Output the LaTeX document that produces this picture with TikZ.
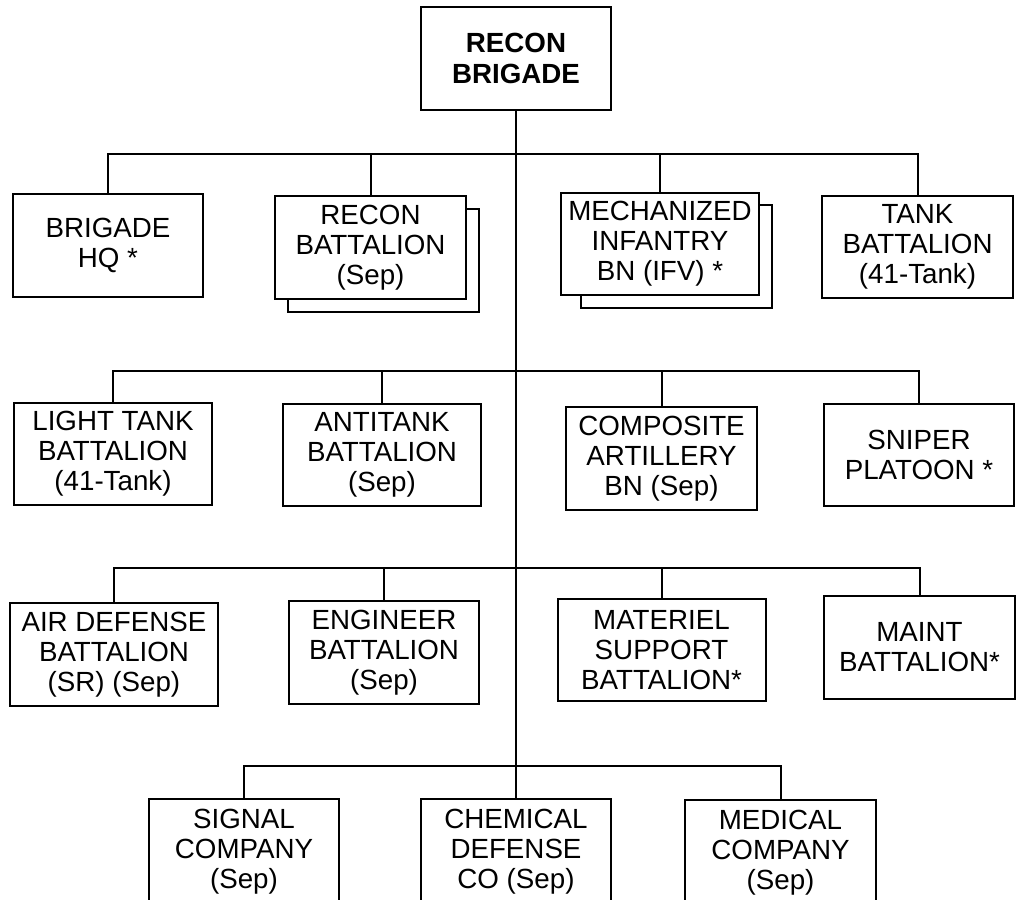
\documentclass[tikz,border=0pt]{standalone}
\usepackage{fontspec}
\setmainfont{Liberation Sans}
\usepackage{tikz}

\tikzset{
  unit/.style={draw, line width=1.5pt, fill=white, align=center, inner sep=0pt,
    font=\fontsize{20.8}{22.5}\selectfont, minimum width=143pt, minimum height=77pt},
  wideunit/.style={unit, minimum width=149pt},
  widerunit/.style={unit, minimum width=156pt},
  link/.style={line width=1.5pt}
}

\begin{document}
\begin{tikzpicture}[x=0.75pt, y=-0.75pt]
  \useasboundingbox (0,0) rectangle (1016,899);
  \clip (0,0) rectangle (1016,899);

  % Brigade
  \node[unit, font=\bfseries\fontsize{20.8}{23}\selectfont] (brig) at (516,58.5) {RECON\\BRIGADE};

  % First row
  \node[unit] (hq) at (108,245.5) {BRIGADE\\HQ *};
  \node[unit] (reconbk) at (383.5,260.5) {};
  \node[unit] (recon) at (370.5,247.5) {RECON\\BATTALION\\(Sep)};
  \node[unit] (mechbk) at (676.5,256.5) {};
  \node[wideunit] (mech) at (660,244) {MECHANIZED\\INFANTRY\\BN (IFV) *};
  \node[unit] (tank) at (917.5,247) {TANK\\BATTALION\\(41-Tank)};

  % Second row
  \node[wideunit] (ltank) at (113,454) {LIGHT TANK\\BATTALION\\(41-Tank)};
  \node[wideunit] (atank) at (382,455) {ANTITANK\\BATTALION\\(Sep)};
  \node[unit] (arty) at (661.5,458.5) {COMPOSITE\\ARTILLERY\\BN (Sep)};
  \node[unit] (sniper) at (919,455) {SNIPER\\PLATOON *};

  % Third row
  \node[widerunit] (airdef) at (114,654.5) {AIR DEFENSE\\BATTALION\\(SR) (Sep)};
  \node[unit] (engr) at (384,652.5) {ENGINEER\\BATTALION\\(Sep)};
  \node[widerunit] (matl) at (661.5,650) {MATERIEL\\SUPPORT\\BATTALION*};
  \node[unit] (maint) at (919.5,647.5) {MAINT\\BATTALION*};

  % Fourth row
  \node[unit, minimum height=80pt] (sig) at (244,852) {SIGNAL\\COMPANY\\(Sep)};
  \node[unit, minimum height=80pt] (chem) at (516,852) {CHEMICAL\\DEFENSE\\CO (Sep)};
  \node[unit, minimum height=80pt] (med) at (780.5,853) {MEDICAL\\COMPANY\\(Sep)};

  % Buses
  \coordinate (busA) at (515,154);
  \coordinate (busB) at (515,371);
  \coordinate (busC) at (515,568);
  \coordinate (busD) at (515,766);

  \draw[link] (brig.south) -- (brig.south |- busD);
  \draw[link] (hq.north) -- (hq.north |- busA) -- (tank.north |- busA) -- (tank.north);
  \draw[link] (recon.north) -- (recon.north |- busA);
  \draw[link] (mech.north) -- (mech.north |- busA);

  \draw[link] (ltank.north) -- (ltank.north |- busB) -- (sniper.north |- busB) -- (sniper.north);
  \draw[link] (atank.north) -- (atank.north |- busB);
  \draw[link] (arty.north) -- (arty.north |- busB);

  \draw[link] (airdef.north) -- (airdef.north |- busC) -- (maint.north |- busC) -- (maint.north);
  \draw[link] (engr.north) -- (engr.north |- busC);
  \draw[link] (matl.north) -- (matl.north |- busC);

  \draw[link] (sig.north) -- (sig.north |- busD) -- (med.north |- busD) -- (med.north);
  \draw[link] (chem.north) -- (chem.north |- busD);
\end{tikzpicture}
\end{document}
